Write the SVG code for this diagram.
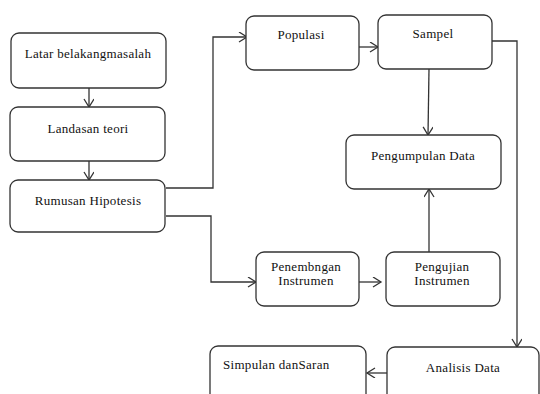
<svg xmlns="http://www.w3.org/2000/svg" width="540" height="394" viewBox="0 0 540 394">
<style>
.box{fill:#fff;stroke:#333;stroke-width:1.3}
.lbl{font-family:"Liberation Serif","Times New Roman",serif;font-size:13px;fill:#111;text-anchor:middle;letter-spacing:0.3px}
.con{fill:none;stroke:#333;stroke-width:1.3;marker-end:url(#arr)}
</style>
<defs>
<marker id="arr" markerUnits="userSpaceOnUse" markerWidth="12" markerHeight="12" viewBox="0 0 12 12" refX="9" refY="5" orient="auto">
<path d="M1,0 L9,5 L1,10" fill="none" stroke="#333" stroke-width="1.3"/>
</marker>
</defs>
<rect width="540" height="394" fill="#fff"/>
<g id="connectors">
<path class="con" d="M89,88 V107"/>
<path class="con" d="M89,161 V180"/>
<path class="con" d="M166,188 H213 V37 H247"/>
<path class="con" d="M166,216 H211 V282 H256"/>
<path class="con" d="M359,47 H378"/>
<path class="con" d="M429,69 L428,135"/>
<path class="con" d="M492,41 H517 V347"/>
<path class="con" d="M359,282 H381"/>
<path class="con" d="M429,252 V189"/>
<path class="con" d="M387,373 H367"/>
</g>
<g id="latar"><rect class="box" x="11" y="33" width="155" height="55" rx="8"/><text class="lbl" x="88" y="58">Latar belakangmasalah</text></g>
<g id="landasan"><rect class="box" x="10" y="107" width="155" height="54" rx="8"/><text class="lbl" x="88" y="133">Landasan teori</text></g>
<g id="rumusan"><rect class="box" x="10" y="180" width="155" height="52" rx="8"/><text class="lbl" x="88" y="205">Rumusan Hipotesis</text></g>
<g id="populasi"><rect class="box" x="246" y="16" width="113" height="54" rx="8"/><text class="lbl" x="301" y="39">Populasi</text></g>
<g id="sampel"><rect class="box" x="378" y="15" width="114" height="54" rx="8"/><text class="lbl" x="433" y="38">Sampel</text></g>
<g id="pengumpulan"><rect class="box" x="346" y="135" width="155" height="54" rx="8"/><text class="lbl" x="423" y="160">Pengumpulan Data</text></g>
<g id="penembngan"><rect class="box" x="256" y="252" width="103" height="54" rx="8"/><text class="lbl" x="306" y="271">Penembngan</text><text class="lbl" x="306" y="285">Instrumen</text></g>
<g id="pengujian"><rect class="box" x="386" y="252" width="114" height="54" rx="8"/><text class="lbl" x="442" y="271">Pengujian</text><text class="lbl" x="442" y="285">Instrumen</text></g>
<g id="analisis"><rect class="box" x="387" y="347" width="152" height="60" rx="8"/><text class="lbl" x="463" y="372">Analisis Data</text></g>
<g id="simpulan"><rect class="box" x="210" y="346" width="156" height="60" rx="8"/><text class="lbl" x="223" y="369" style="text-anchor:start">Simpulan danSaran</text></g>
</svg>
